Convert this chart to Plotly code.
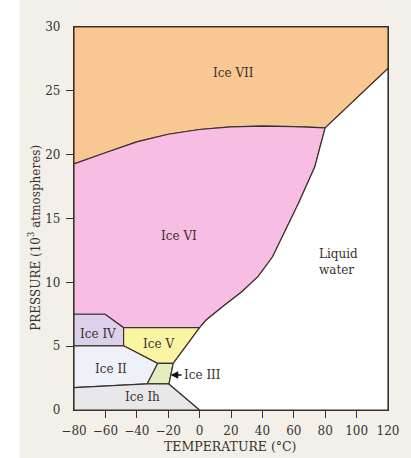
import plotly.graph_objects as go

# ---- data (temperature °C, pressure 10^3 atm) ----
# Ice VI / Ice VII boundary
vi_vii_t = [-80, -60, -40, -20, 0, 20, 40, 60, 80]
vi_vii_p = [19.28, 20.15, 21.0, 21.6, 21.97, 22.18, 22.24, 22.2, 22.1]
# Ice VI / liquid boundary (from the VI-VII-liquid point down to VI-V-liquid point)
vi_liq_t = [80, 76.5, 73.4, 63, 53.7, 46.5, 37.2, 26.9, 14.6, 4.2, 0]
vi_liq_p = [22.1, 20.5, 19.05, 16.2, 13.84, 12.0, 10.44, 9.26, 8.09, 7.05, 6.45]

ice_vii_t = vi_vii_t + [120, 120, -80]
ice_vii_p = vi_vii_p + [26.75, 30, 30]

ice_vi_t = [-80] + vi_vii_t + vi_liq_t[1:] + [-48.4, -60.2]
ice_vi_p = [7.5] + vi_vii_p + vi_liq_p[1:] + [6.45, 7.5]

ice_iv_t = [-80, -60.2, -48.4, -48.4, -80]
ice_iv_p = [7.5, 7.5, 6.45, 5.03, 5.03]

ice_v_t = [-48.4, 0, -16.8, -26.7, -48.4]
ice_v_p = [6.45, 6.45, 3.65, 3.65, 5.03]

ice_ii_t = [-80, -48.4, -26.7, -33.4, -80]
ice_ii_p = [5.03, 5.03, 3.65, 2.04, 1.75]

ice_iii_t = [-26.7, -16.8, -19.5, -33.4]
ice_iii_p = [3.65, 3.65, 2.04, 2.04]

ice_ih_t = [-80, -80, -33.4, -19.5, 0]
ice_ih_p = [0, 1.75, 2.04, 2.04, 0]

liquid_t = [0, 120, 120] + vi_liq_t + [-16.8, -19.5]
liquid_p = [0, 0, 26.75] + vi_liq_p + [3.65, 2.04]

region_names = ["Ice VII", "Ice VI", "Ice IV", "Ice V", "Ice II", "Ice III", "Ice Ih", "Liquid water"]
region_colors = ["#f9c892", "#f8bde3", "#dcd0ea", "#faf5a3", "#eef2f8", "#e3eebc", "#e8e7ea", "#ffffff"]
regions_t = [ice_vii_t, ice_vi_t, ice_iv_t, ice_v_t, ice_ii_t, ice_iii_t, ice_ih_t, liquid_t]
regions_p = [ice_vii_p, ice_vi_p, ice_iv_p, ice_v_p, ice_ii_p, ice_iii_p, ice_ih_p, liquid_p]

label_text = ["Ice VII", "Ice VI", "Liquid<br>water", "Ice IV", "Ice V", "Ice II", "Ice Ih"]
label_t = [21.5, -13.0, 75.0, -64.5, -26.0, -56.2, -36.6]
label_p = [26.4, 13.6, 11.6, 5.95, 5.15, 3.2, 0.98]

ice_iii_point = (-18.5, 2.74)

x_ticks = [-80, -60, -40, -20, 0, 20, 40, 60, 80, 100, 120]
y_ticks = [0, 5, 10, 15, 20, 25, 30]

INK = "#3a302e"
FONT = "DejaVu Serif"

fig = go.Figure()
for name, col, tt, pp in zip(region_names, region_colors, regions_t, regions_p):
    fig.add_trace(go.Scatter(
        x=tt + [tt[0]], y=pp + [pp[0]], mode="lines", fill="toself",
        fillcolor=col, line=dict(color=INK, width=1.2), name=name,
        hoverinfo="name", showlegend=False))

# overlay axes carrying only the inner tick marks
fig.add_trace(go.Scatter(x=[None], y=[None], xaxis="x2", yaxis="y2",
                         showlegend=False, hoverinfo="skip"))

for txt, tx, py in zip(label_text, label_t, label_p):
    fig.add_annotation(x=tx, y=py, text=txt, showarrow=False,
                       xanchor="left" if "Liquid" in txt else "center",
                       yanchor="middle", align="left",
                       font=dict(family=FONT, size=12, color=INK))

fig.add_annotation(x=ice_iii_point[0], y=ice_iii_point[1], text="Ice III",
                   showarrow=True, ax=11, ay=0, xanchor="left", yanchor="middle",
                   arrowhead=2, arrowsize=1.1, arrowwidth=1.4, arrowcolor="#111",
                   font=dict(family=FONT, size=12, color=INK))

fig.add_annotation(xref="paper", yref="paper", x=0.497, y=-0.094,
                   xanchor="center", yanchor="middle",
                   text="TEMPERATURE (°C)", showarrow=False,
                   font=dict(family=FONT, size=12.5, color=INK))
fig.add_annotation(xref="paper", yref="paper", x=-0.127, y=0.45,
                   xanchor="center", yanchor="middle",
                   text="PRESSURE (10<sup>3</sup> atmospheres)", showarrow=False,
                   textangle=-90,
                   font=dict(family=FONT, size=12, color=INK))

# white strip on the far left of the page
fig.add_shape(type="rect", xref="paper", yref="paper",
              x0=-0.3, x1=-0.1734, y0=-0.3, y1=1.2,
              fillcolor="white", line=dict(width=0), layer="below")

axis_font = dict(family=FONT, size=12, color=INK)
fig.update_layout(
    width=411, height=458, autosize=False,
    margin=dict(l=74, r=14, t=27, b=48),
    paper_bgcolor="#f3f0e9", plot_bgcolor="white",
    showlegend=False,
    xaxis=dict(range=[-80, 120], tickvals=x_ticks, ticks="", showline=True,
               mirror=True, linecolor=INK, linewidth=1.3, showgrid=False,
               zeroline=False, tickfont=axis_font, ticklabelstandoff=9),
    yaxis=dict(range=[0, 30], tickvals=y_ticks, ticks="", showline=True,
               mirror=True, linecolor=INK, linewidth=1.3, showgrid=False,
               zeroline=False, tickfont=axis_font, ticklabelstandoff=10),
    xaxis2=dict(range=[-80, 120], overlaying="x", anchor="y2", side="bottom",
                tickvals=x_ticks[1:-1], ticks="outside", ticklen=7, tickwidth=1.3,
                tickcolor=INK, showticklabels=False, showgrid=False,
                zeroline=False, showline=False),
    yaxis2=dict(range=[0, 30], overlaying="y", anchor="x2", side="left",
                tickvals=y_ticks[1:-1], ticks="outside", ticklen=7, tickwidth=1.3,
                tickcolor=INK, showticklabels=False, showgrid=False,
                zeroline=False, showline=False),
)

fig.write_html("out.html")
